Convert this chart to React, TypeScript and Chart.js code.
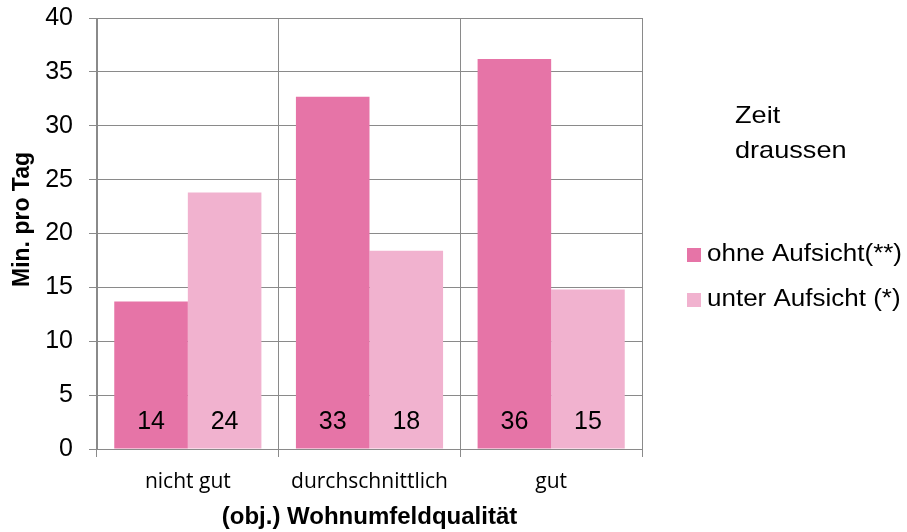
import React, { useEffect, useRef } from "react";
import { Chart, registerables } from "chart.js";

Chart.register(...registerables);

const categories = ["nicht gut", "durchschnittlich", "gut"];
const seriesNames = ["ohne Aufsicht(**)", "unter Aufsicht (*)"];
const ohneAufsicht = [13.7, 32.7, 36.2];
const unterAufsicht = [23.8, 18.4, 14.8];
const legendTitle = ["Zeit", "draussen"];
const yTitle = "Min. pro Tag";
const xTitle = "(obj.) Wohnumfeldqualität";

const DARK = "#E674A7";
const LIGHT = "#F1B2CF";
const GRID = "#8a8a8a";
const ARIAL = "'Liberation Sans', Arial, sans-serif";

const valueLabels = {
  id: "valueLabels",
  afterDatasetsDraw(chart: any) {
    const ctx = chart.ctx;
    ctx.save();
    ctx.font = `25px ${ARIAL}`;
    ctx.fillStyle = "#000";
    ctx.textAlign = "center";
    ctx.textBaseline = "middle";
    const y = chart.scales.y.getPixelForValue(0) - 27;
    chart.data.datasets.forEach((ds: any, i: number) => {
      const meta = chart.getDatasetMeta(i);
      meta.data.forEach((el: any, j: number) => {
        ctx.fillText(String(Math.round(ds.data[j])), el.x, y);
      });
    });
    ctx.restore();
  },
};

const yTitlePlugin = {
  id: "yTitlePlugin",
  afterDraw(chart: any) {
    const ctx = chart.ctx;
    ctx.save();
    ctx.font = `bold 23px ${ARIAL}`;
    ctx.fillStyle = "#000";
    ctx.textAlign = "center";
    ctx.textBaseline = "middle";
    const a = chart.chartArea;
    ctx.translate(23, (a.top + a.bottom) / 2 - 14);
    ctx.rotate(-Math.PI / 2);
    ctx.fillText(yTitle, 0, 0);
    ctx.restore();
  },
};

const sideLegend = {
  id: "sideLegend",
  afterDraw(chart: any) {
    const ctx = chart.ctx;
    const sx = 1.13;
    ctx.save();
    ctx.fillStyle = "#000";
    ctx.textAlign = "left";
    ctx.textBaseline = "alphabetic";
    ctx.font = `24px ${ARIAL}`;
    const left = chart.chartArea.right + 93;
    legendTitle.forEach((t, i) => {
      ctx.save();
      ctx.translate(left, 123 + i * 35);
      ctx.scale(sx, 1);
      ctx.fillText(t, 0, 0);
      ctx.restore();
    });
    ctx.font = `23px ${ARIAL}`;
    ctx.textBaseline = "middle";
    const boxX = chart.chartArea.right + 45;
    chart.data.datasets.forEach((ds: any, i: number) => {
      const cy = 255 + i * 45;
      ctx.fillStyle = ds.backgroundColor;
      ctx.fillRect(boxX, cy - 7, 14, 14);
      ctx.fillStyle = "#000";
      ctx.save();
      ctx.translate(boxX + 20, cy);
      ctx.scale(sx, 1);
      ctx.fillText(ds.label, 0, 0);
      ctx.restore();
    });
    ctx.restore();
  },
};

export default function App() {
  const ref = useRef<HTMLCanvasElement | null>(null);
  useEffect(() => {
    if (!ref.current) return;
    const chart = new Chart(ref.current, {
      type: "bar",
      data: {
        labels: categories,
        datasets: [
          {
            label: seriesNames[0],
            data: ohneAufsicht,
            backgroundColor: DARK,
            categoryPercentage: 0.81,
            barPercentage: 1,
          },
          {
            label: seriesNames[1],
            data: unterAufsicht,
            backgroundColor: LIGHT,
            categoryPercentage: 0.81,
            barPercentage: 1,
          },
        ],
      },
      options: {
        responsive: false,
        animation: false,
        layout: { padding: { left: 0, right: 265, top: 18, bottom: 0 } },
        plugins: {
          legend: { display: false },
          tooltip: { enabled: false },
        },
        scales: {
          x: {
            afterFit: (s: any) => {
              s.height = 83;
            },
            grid: {
              offset: true,
              color: GRID,
              lineWidth: 1,
              drawTicks: true,
              tickLength: 8,
            },
            border: { color: GRID, width: 1 },
            ticks: {
              color: "#000",
              padding: 12,
              font: { family: "'Open Sans', sans-serif", size: 21 },
            },
            title: {
              display: true,
              text: xTitle,
              color: "#000",
              font: { family: ARIAL, size: 24, weight: "bold" },
              padding: { top: 0, bottom: 0 },
            },
          },
          y: {
            min: 0,
            max: 40,
            afterFit: (s: any) => {
              s.width = 97;
              s.paddingTop = 0;
              s.paddingBottom = 0;
            },
            grid: {
              color: GRID,
              lineWidth: 1,
              drawTicks: true,
              tickLength: 8,
            },
            border: { color: GRID, width: 1 },
            ticks: {
              stepSize: 5,
              color: "#000",
              padding: 16,
              font: { family: ARIAL, size: 25 },
            },
            title: { display: false },
          },
        },
      },
      plugins: [valueLabels, yTitlePlugin, sideLegend],
    });
    return () => chart.destroy();
  }, []);
  return (
    <div style={{ position: "absolute", left: 0, top: 0, width: 907, height: 532, background: "#fff" }}>
      <canvas ref={ref} width={907} height={532} />
    </div>
  );
}
